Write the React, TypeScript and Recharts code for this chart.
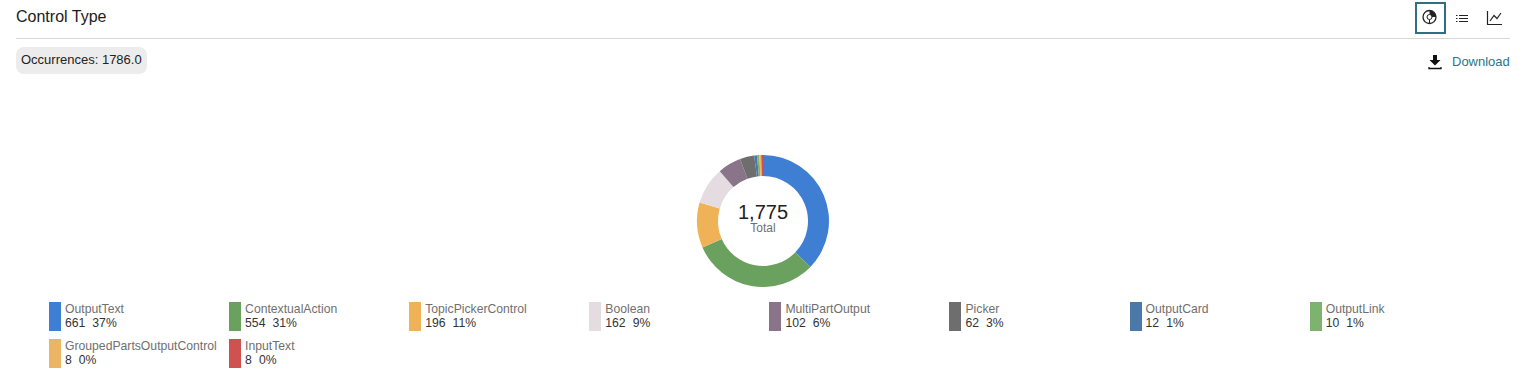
import React from "react";
import { PieChart, Pie, Cell, Legend } from "recharts";

const names = ["OutputText", "ContextualAction", "TopicPickerControl", "Boolean", "MultiPartOutput", "Picker", "OutputCard", "OutputLink", "GroupedPartsOutputControl", "InputText"];
const counts = [661, 554, 196, 162, 102, 62, 12, 10, 8, 8];
const percents = [37, 31, 11, 9, 6, 3, 1, 1, 0, 0];
const colors = ["#3f7fd3", "#6aa15f", "#efb256", "#e4dce0", "#8a7489", "#6e6e6e", "#4a78a8", "#7db26f", "#ecb565", "#cf5250"];
const rows = names.map((name, i) => ({ name, value: counts[i], percent: percents[i], color: colors[i] }));
const FONT = "'Liberation Sans', Arial, sans-serif";

function LegendBody() {
  return (
    <div style={{ display: "flex", flexWrap: "wrap", width: 1444, fontFamily: FONT }}>
      {rows.map((r) => (
        <div key={r.name} style={{ width: 180.1, height: 37, display: "flex", boxSizing: "border-box" }}>
          <div style={{ width: 12, height: 29, marginTop: 0, background: r.color, flex: "none" }} />
          <div style={{ marginLeft: 4, fontSize: 12.2, lineHeight: "14px", whiteSpace: "nowrap" }}>
            <div style={{ color: "#6f6f6f" }}>{r.name}</div>
            <div style={{ color: "#333", whiteSpace: "nowrap" }}>
              <span>{r.value}</span>
              <span style={{ marginLeft: 7 }}>{r.percent}%</span>
            </div>
          </div>
        </div>
      ))}
    </div>
  );
}

export default function App() {
  return (
    <div style={{ position: "absolute", left: 0, top: 0, width: 1527, height: 380, background: "#fff", fontFamily: FONT, overflow: "hidden" }}>
      <div style={{ position: "absolute", left: 16, top: 8, fontSize: 16, lineHeight: "18px", color: "#1b1b1b" }}>Control Type</div>
      <div style={{ position: "absolute", left: 16, top: 38, width: 1494, height: 1, background: "#d8d8d8" }} />
      <div style={{ position: "absolute", left: 16, top: 47, width: 131, height: 27, borderRadius: 8, background: "#ececec", fontSize: 13, lineHeight: "26px", color: "#222", textIndent: 5 }}>Occurrences: 1786.0</div>

      <div style={{ position: "absolute", left: 1415, top: 2, width: 27, height: 28, border: "2px solid #2f6f80" }} />
      <svg style={{ position: "absolute", left: 1415, top: 2 }} width={100} height={32}>
        <circle cx={14.5} cy={15} r={6.5} fill="none" stroke="#222" strokeWidth={1.3} />
        <path d="M14.5 8.5 A6.5 6.5 0 0 1 21 15 L17 15 A2.5 2.5 0 0 0 14.5 12.5 Z" fill="#222" />
        <circle cx={14.5} cy={15} r={2.5} fill="none" stroke="#222" strokeWidth={1} />
        <path d="M14.5 17.5 V21" stroke="#222" strokeWidth={1} />
        <path d="M41 13.5 H42.5 M44 13.5 H53 M41 16.5 H42.5 M44 16.5 H53 M41 19.5 H42.5 M44 19.5 H53" stroke="#222" strokeWidth={1} />
        <path d="M72.5 9 V22.5 H87" fill="none" stroke="#222" strokeWidth={1.2} />
        <path d="M75 19 L79 13.5 L82 16.5 L86 11" fill="none" stroke="#222" strokeWidth={1.2} />
      </svg>
      <svg style={{ position: "absolute", left: 1428, top: 54 }} width={16} height={18}>
        <path d="M5 1 H9 V6 H12.5 L7 11.5 L1.5 6 H5 Z" fill="#111" />
        <path d="M1 13 V14.5 H13 V13" fill="none" stroke="#111" strokeWidth={1.3} />
      </svg>
      <div style={{ position: "absolute", left: 1452, top: 54, fontSize: 13, lineHeight: "15px", color: "#2f7488" }}>Download</div>

      <div style={{ position: "absolute", left: 0, top: 0 }}>
        <PieChart width={1527} height={380} margin={{ top: 0, right: 0, bottom: 0, left: 0 }}>
          <Pie
            data={rows}
            dataKey="value"
            nameKey="name"
            cx={763}
            cy={221}
            innerRadius={45}
            outerRadius={66}
            startAngle={90}
            endAngle={-270}
            stroke="none"
            isAnimationActive={false}
          >
            {rows.map((r) => (
              <Cell key={r.name} fill={r.color} />
            ))}
          </Pie>
          <Legend
            content={<LegendBody />}
            layout="horizontal"
            wrapperStyle={{ position: "absolute", left: 49, top: 302, width: 1444, bottom: "auto" }}
          />
          <text x={763} y={219} textAnchor="middle" fontSize={20} fill="#222" fontFamily={FONT}>1,775</text>
          <text x={763} y={232} textAnchor="middle" fontSize={12} fill="#6f6f6f" fontFamily={FONT}>Total</text>
        </PieChart>
      </div>
    </div>
  );
}
